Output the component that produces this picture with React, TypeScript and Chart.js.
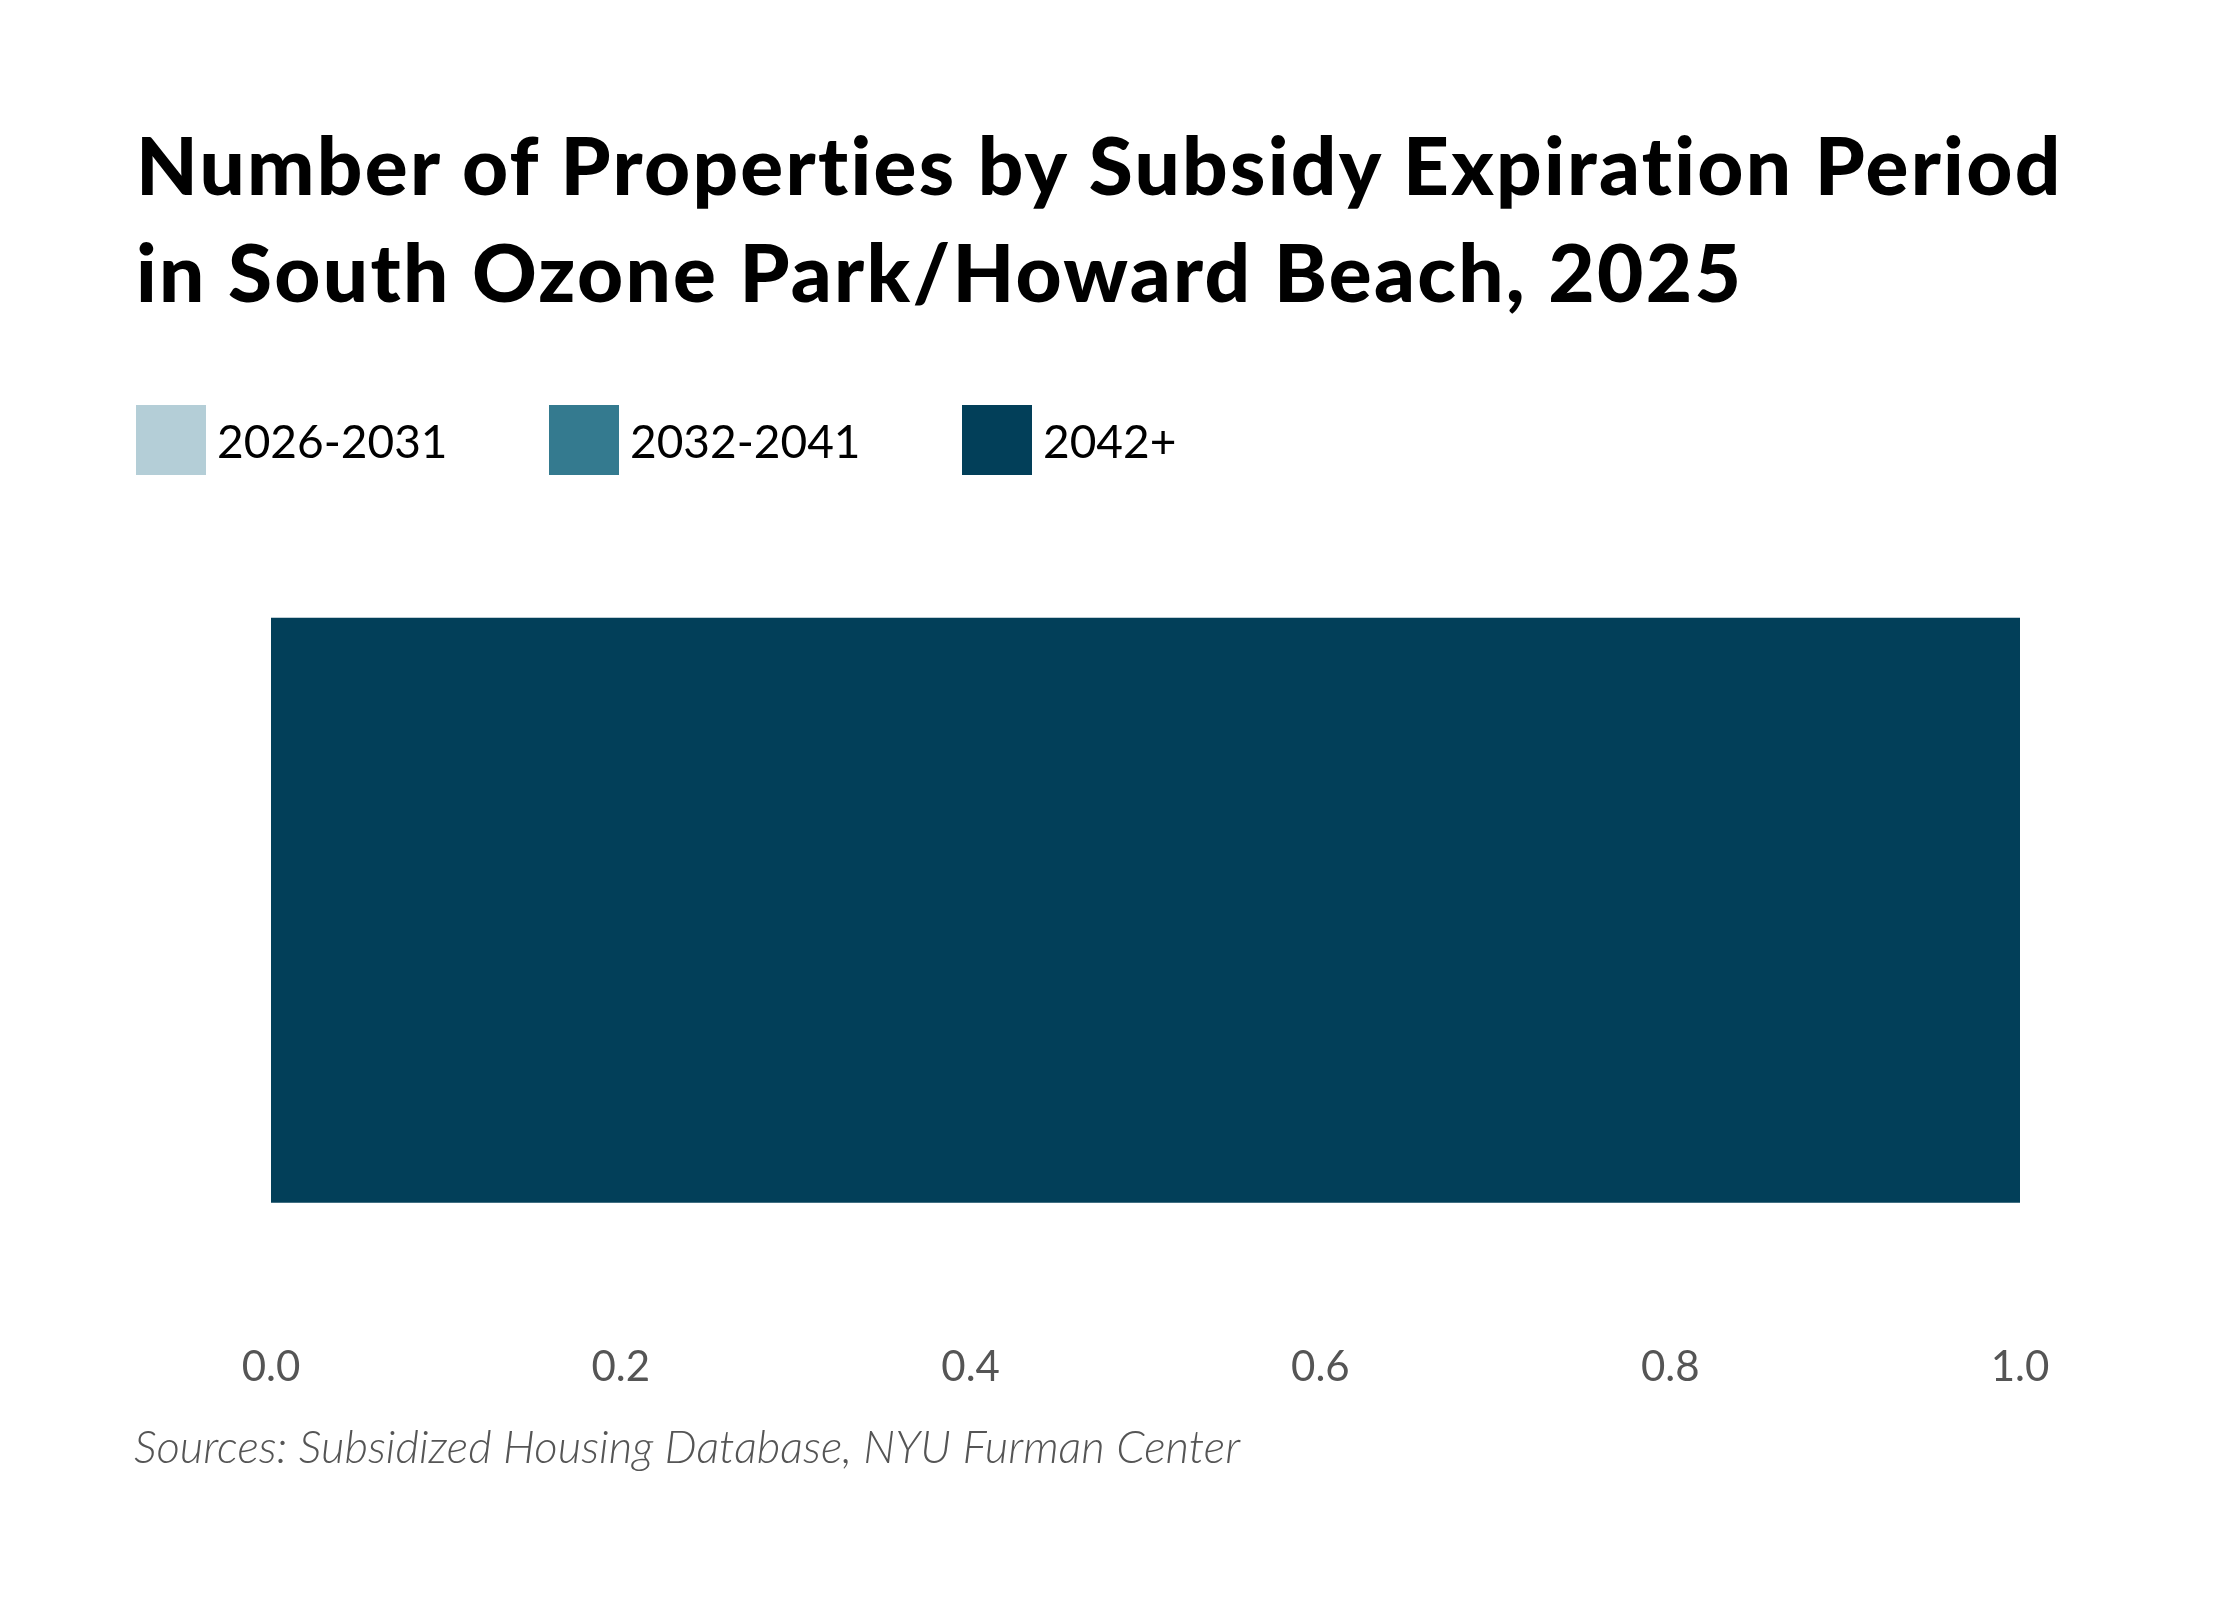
import { useRef, useEffect } from 'react';
import Chart from 'chart.js/auto';

const categories = ['South Ozone Park/Howard Beach'];
const seriesNames = ['2026-2031', '2032-2041', '2042+'];
const seriesColors = ['#b4ced7', '#347a8f', '#023f59'];
const values2026 = [0];
const values2032 = [0];
const values2042 = [1];
const tickValues = [0, 0.2, 0.4, 0.6, 0.8, 1.0];

const titleLines = [
  'Number of Properties by Subsidy Expiration Period',
  'in South Ozone Park/Howard Beach, 2025',
];
const sourceText = 'Sources: Subsidized Housing Database, NYU Furman Center';

export default function App() {
  const chartRef = useRef<HTMLCanvasElement>(null);
  const chartInstance = useRef<Chart | null>(null);

  useEffect(() => {
    if (!chartRef.current) return;
    if (chartInstance.current) chartInstance.current.destroy();
    const ctx = chartRef.current.getContext('2d');
    if (!ctx) return;

    const seriesValues = [values2026, values2032, values2042];

    chartInstance.current = new Chart(ctx, {
      type: 'bar',
      data: {
        labels: categories,
        datasets: seriesNames.map((name, i) => ({
          label: name,
          data: seriesValues[i],
          backgroundColor: seriesColors[i],
          borderWidth: 0,
        })),
      },
      options: {
        indexAxis: 'y',
        animation: false,
        responsive: true,
        maintainAspectRatio: false,
        layout: {
          padding: { top: 504, left: 271, right: 220, bottom: 181 },
        },
        plugins: {
          legend: { display: false },
          tooltip: { enabled: false },
          title: { display: false },
        },
        scales: {
          x: {
            stacked: true,
            min: 0,
            max: 1,
            afterBuildTicks: (scale) => {
              scale.ticks = tickValues.map(v => ({ value: v }));
            },
            grid: { display: false, drawTicks: false },
            border: { display: false },
            ticks: {
              padding: 26,
              color: '#555555',
              font: { family: 'Lato', size: 42 },
              callback: (v) => Number(v).toFixed(1),
            },
          },
          y: {
            stacked: true,
            display: false,
          },
        },
      },
    });

    return () => {
      if (chartInstance.current) {
        chartInstance.current.destroy();
        chartInstance.current = null;
      }
    };
  }, []);

  return (
    <div style={{ position: 'fixed', left: 0, top: 0, width: 2240, height: 1600, background: '#fff', fontFamily: 'Lato, sans-serif' }}>
      <div style={{ position: 'absolute', left: 0, top: 0, width: 2240, height: 1600 }}>
        <canvas ref={chartRef}></canvas>
      </div>
      {/* Title */}
      <div style={{ position: 'absolute', left: 136, top: 111, fontSize: 80, lineHeight: '107px', fontWeight: 900, letterSpacing: 2.3, color: '#000', whiteSpace: 'nowrap' }}>
        {titleLines.map((line, i) => <div key={i}>{line}</div>)}
      </div>
      {/* Legend */}
      <div style={{ position: 'absolute', left: 136, top: 405, display: 'flex' }}>
        {seriesNames.map((name, i) => (
          <div key={i} style={{ width: 413, flexShrink: 0, display: 'flex', alignItems: 'center' }}>
            <div style={{ width: 70, height: 70, background: seriesColors[i], flexShrink: 0 }}></div>
            <span style={{ marginLeft: 11, fontSize: 46, color: '#000', whiteSpace: 'nowrap' }}>{name}</span>
          </div>
        ))}
      </div>
      {/* Sources */}
      <div style={{ position: 'absolute', left: 134, top: 1423, fontSize: 45.5, lineHeight: '45.5px', fontStyle: 'italic', fontWeight: 300, color: '#555555', whiteSpace: 'nowrap' }}>
        {sourceText}
      </div>
    </div>
  );
}
